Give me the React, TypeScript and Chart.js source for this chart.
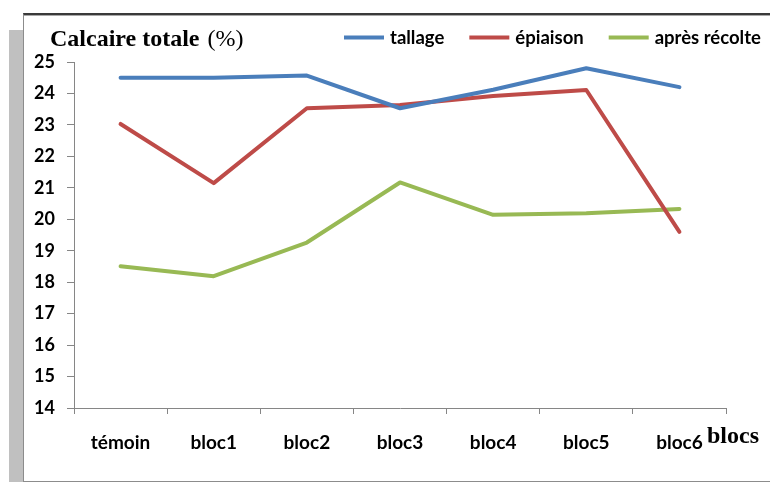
import React, { useEffect, useRef } from "react";
import { Chart, registerables } from "chart.js";

Chart.register(...registerables);

// ---- data ----
const categories = ["témoin", "bloc1", "bloc2", "bloc3", "bloc4", "bloc5", "bloc6"];
const seriesNames = ["tallage", "épiaison", "après récolte"];
const tallage = [24.5, 24.5, 24.57, 23.53, 24.12, 24.8, 24.2];
const epiaison = [23.03, 21.15, 23.53, 23.63, 23.92, 24.11, 19.6];
const apresRecolte = [18.51, 18.19, 19.26, 21.17, 20.14, 20.19, 20.33];
const seriesColors = ["#4A7EBB", "#BE4B48", "#98B954"];
const yMin = 14;
const yMax = 25;
const yStep = 1;
const titleMain = "Calcaire totale";
const titleUnit = "(%)";
const xAxisName = "blocs";

const AXIS_COLOR = "#868686";

const overlayPlugin = {
  id: "overlay",
  afterDraw(chart: any) {
    const ctx = chart.ctx as CanvasRenderingContext2D;
    ctx.save();
    ctx.fillStyle = "#000";
    ctx.textBaseline = "alphabetic";
    ctx.textAlign = "left";
    // title
    ctx.font = "bold 24px 'Liberation Serif'";
    ctx.fillText(titleMain, 50, 46);
    const w = ctx.measureText(titleMain + " ").width;
    ctx.font = "24px 'Liberation Serif'";
    ctx.fillText(titleUnit, 50 + w + 2, 46);
    // legend
    let x = 344;
    const y = 37.5;
    ctx.font = "bold 18.5px Lato";
    chart.data.datasets.forEach((ds: any) => {
      ctx.strokeStyle = ds.borderColor;
      ctx.lineWidth = 4;
      ctx.lineCap = "butt";
      ctx.beginPath();
      ctx.moveTo(x, y);
      ctx.lineTo(x + 40, y);
      ctx.stroke();
      x += 46;
      ctx.fillStyle = "#000";
      ctx.fillText(ds.label, x, 44);
      x += ctx.measureText(ds.label).width + 25;
    });
    // x axis name
    ctx.font = "bold 24px 'Liberation Serif'";
    ctx.fillText(xAxisName, 707, 443);
    ctx.restore();
  },
};

export default function App() {
  const ref = useRef<HTMLCanvasElement | null>(null);

  useEffect(() => {
    if (!ref.current) return;
    const values = [tallage, epiaison, apresRecolte];
    const chart = new Chart(ref.current, {
      type: "line",
      data: {
        labels: categories,
        datasets: seriesNames.map((name, i) => ({
          label: name,
          data: values[i],
          borderColor: seriesColors[i],
          backgroundColor: seriesColors[i],
          borderWidth: 4,
          pointRadius: 0,
          pointHoverRadius: 0,
          tension: 0,
          fill: false,
          borderCapStyle: "round",
          borderJoinStyle: "round",
        })),
      },
      options: {
        responsive: false,
        animation: false,
        devicePixelRatio: 1,
        layout: { padding: { top: 62, right: 44, left: 0, bottom: 0 } },
        plugins: {
          legend: { display: false },
          title: { display: false },
          tooltip: { enabled: false },
        },
        scales: {
          x: {
            type: "category",
            offset: true,
            grid: {
              display: true,
              offset: true,
              drawOnChartArea: false,
              drawTicks: true,
              tickLength: 6,
              color: AXIS_COLOR,
            },
            border: { display: true, color: AXIS_COLOR, width: 1 },
            ticks: {
              color: "#000",
              font: { family: "Lato", weight: "bold", size: 19 },
              padding: 17,
              maxRotation: 0,
              autoSkip: false,
            },
            afterFit: (s: any) => {
              s.height = 74;
            },
          },
          y: {
            min: yMin,
            max: yMax,
            grid: {
              display: true,
              drawOnChartArea: false,
              drawTicks: true,
              tickLength: 7,
              color: AXIS_COLOR,
            },
            border: { display: true, color: AXIS_COLOR, width: 1 },
            ticks: {
              stepSize: yStep,
              color: "#000",
              font: { family: "Lato", weight: "bold", size: 18 },
              padding: 12,
            },
            afterFit: (s: any) => {
              s.width = 74;
            },
          },
        },
      },
      plugins: [overlayPlugin],
    } as any);
    return () => chart.destroy();
  }, []);

  return (
    <div
      style={{
        position: "absolute",
        left: 0,
        top: 0,
        width: 770,
        height: 482,
        background: "#fff",
        overflow: "hidden",
      }}
    >
      <div
        style={{
          position: "absolute",
          left: 9,
          top: 30,
          width: 14,
          height: 452,
          background: "#c0c0c0",
        }}
      />
      <div
        style={{
          position: "absolute",
          left: 23,
          top: 13,
          width: 760,
          height: 466,
          background: "#fff",
          borderTop: "2px solid #3a3a3a",
          borderLeft: "1px solid #8c8c8c",
          borderBottom: "1px solid #8c8c8c",
          boxShadow: "inset 0 1px 0 #a8a8a8",
        }}
      />
      <canvas
        ref={ref}
        width={770}
        height={482}
        style={{ position: "absolute", left: 0, top: 0, width: 770, height: 482 }}
      />
    </div>
  );
}
